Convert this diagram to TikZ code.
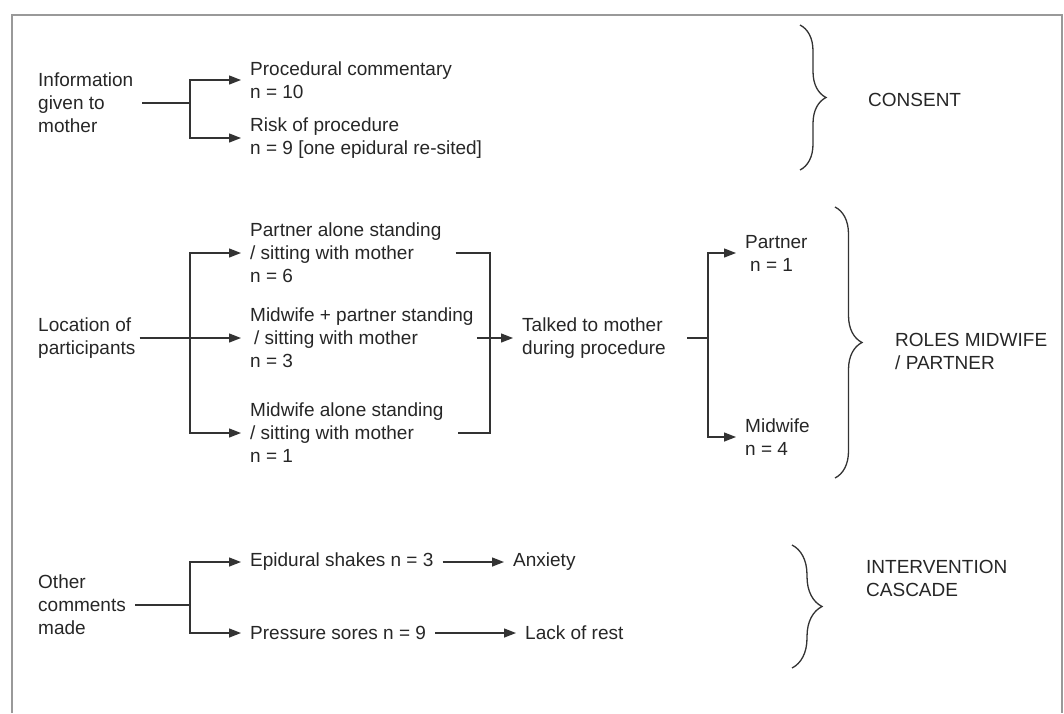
\documentclass[tikz,border=0pt]{standalone}
\usepackage{fontspec}
\setmainfont{Liberation Sans}
\usetikzlibrary{arrows.meta,decorations.pathreplacing}

\begin{document}
\begin{tikzpicture}[
  x=1pt, y=-1pt,
  every node/.style = {font=\fontsize{19}{23}\selectfont, text=black!85},
  txt/.style = {align=left, anchor=west, inner xsep=9pt, inner ysep=0pt},
  head/.style = {align=left, anchor=west, inner sep=0pt},
  link/.style = {draw=black!80, line width=1.3pt},
  arr/.style = {link, -{Triangle[length=12pt,width=9pt]}},
  brc/.style = {link, decorate, decoration={brace, amplitude=#1}},
  ]
  \useasboundingbox (0,0) rectangle (1064,713);
  \draw[gray!80, line width=1.5pt] (12,713) -- (12,15) -- (1062,15) -- (1062,713);
  \coordinate (fork) at (190,0);
  \coordinate (fork2) at (708,0);
  \coordinate (rb) at (490,0);

  % information given
  \node[txt] (info) at (29,103) {Information\\given to\\mother};
  \node[txt] (proc) at (241,80) {Procedural commentary\\n = 10};
  \node[txt] (risk) at (241,138) {Risk of procedure\\n = 9 [one epidural re-sited]};
  \draw[link] (info.east) -- (info.east -| fork) coordinate (j1);
  \draw[arr] (j1) |- (proc.west);
  \draw[arr] (j1) |- (risk.west);

  % where people stood
  \node[txt] (loc) at (29,338) {Location of\\participants};
  \node[txt] (pa) at (241,253) {Partner alone standing\\/ sitting with mother\\n = 6};
  \node[txt] (mp) at (241,338) {Midwife + partner standing\\\hspace{4pt}/ sitting with mother\\n = 3};
  \node[txt] (ma) at (241,433) {Midwife alone standing\\/ sitting with mother\\n = 1};
  \draw[arr] ([xshift=-5pt]loc.east) -- (mp.west);
  \draw[arr] (loc.east -| fork) |- (pa.west);
  \draw[arr] (loc.east -| fork) |- (ma.west);
  \draw[link] ([xshift=5pt]pa.east) -| (rb |- ma.east) -- ([xshift=5pt]ma.east);

  \node[txt] (talk) at (513,338) {Talked to mother\\during procedure};
  \node[txt] (partner) at (736,253) {Partner\\\hspace{5pt}n = 1};
  \node[txt] (midwife) at (736,437) {Midwife\\n = 4};
  \draw[arr] ([xshift=-6pt]mp.east) -- (talk.west);
  \draw[link] ([xshift=12pt]talk.east) -- (talk.east -| fork2) coordinate (j4);
  \draw[arr] (j4) |- (partner.west);
  \draw[arr] (j4) |- (midwife.west);

  % other comments
  \node[txt] (other) at (29,605) {Other\\comments\\made};
  \node[txt] (shakes) at (241,562) {Epidural shakes n = 3};
  \node[txt] (sores) at (241,633) {Pressure sores n = 9};
  \node[txt] (anx) at (504,562) {Anxiety};
  \node[txt] (lack) at (516,633) {Lack of rest};
  \draw[link] (other.east) -- (other.east -| fork) coordinate (j5);
  \draw[arr] (j5) |- (shakes.west);
  \draw[arr] (j5) |- (sores.west);
  \draw[arr] (shakes.east) -- (anx.west);
  \draw[arr] (sores.east) -- (lack.west);

  % themes
  \draw[brc=26pt] (800,25) -- (800,170);
  \node[head] (consent) at (868,100) {CONSENT};
  \draw[brc=27pt] (835,207) -- (835,478);
  \node[head] (roles) at (895,351) {ROLES MIDWIFE\\/ PARTNER};
  \draw[brc=30pt] (792,545) -- (792,668);
  \node[head] (cascade) at (866,578) {INTERVENTION\\CASCADE};
\end{tikzpicture}
\end{document}
